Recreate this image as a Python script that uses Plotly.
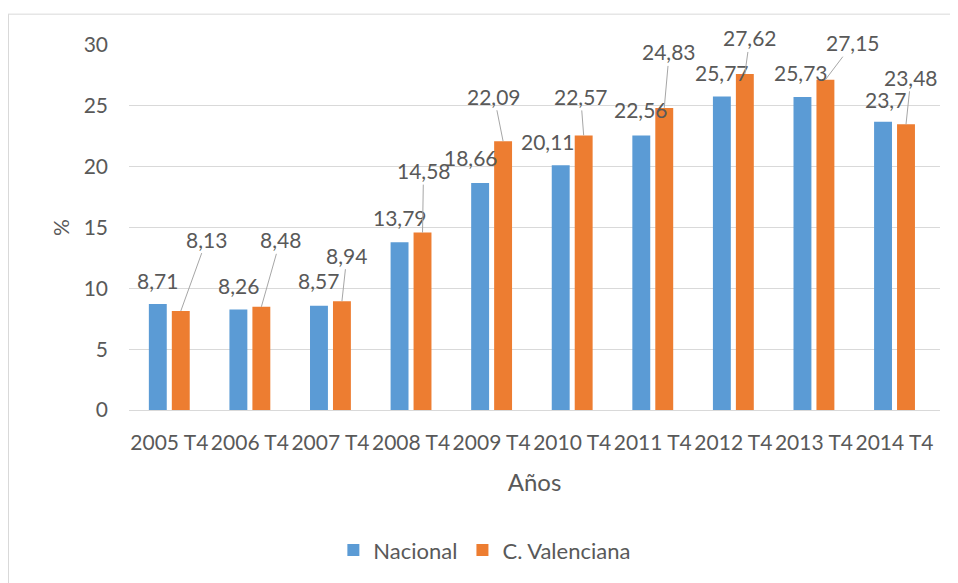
import plotly.graph_objects as go

categories = ["2005 T4", "2006 T4", "2007 T4", "2008 T4", "2009 T4",
              "2010 T4", "2011 T4", "2012 T4", "2013 T4", "2014 T4"]
nacional = [8.71, 8.26, 8.57, 13.79, 18.66, 20.11, 22.56, 25.77, 25.73, 23.7]
valenciana = [8.13, 8.48, 8.94, 14.58, 22.09, 22.57, 24.83, 27.62, 27.15, 23.48]

# label placement (pixel offsets from bar top), as in the original chart
nac_dx = [0, 0, 0, 0, -9, -13, 0, 0, -1, 2]
nac_rise = [24, 24, 25, 25, 25, 24, 26, 24, 24, 22]
val_dx = [26, 19, 5, 1, -9, -3, 5, 5, 28, 5]
val_dy = [-72, -67, -46, -62, -45, -39, -56, -36, -37, -47]

BLUE = "#5B9BD5"
ORANGE = "#ED7D31"
TXT = "#595959"
GRID = "#D9D9D9"
FONT = "Lato, Open Sans, sans-serif"
BARGAP = 0.43
GROUPGAP = 0.22

W, H = 950, 575
ML, MT, PW, PH = 121, 37, 811, 367


def fmt(v):
    return f"{v:g}".replace(".", ",")


fig = go.Figure()
fig.add_trace(go.Bar(name="Nacional", x=categories, y=nacional,
                     marker=dict(color=BLUE, line=dict(width=0))))
fig.add_trace(go.Bar(name="C. Valenciana", x=categories, y=valenciana,
                     marker=dict(color=ORANGE, line=dict(width=0))))

off = (1 - BARGAP) / 4
annotations = []
for i, v in enumerate(nacional):
    annotations.append(dict(x=i - off, y=v, xref="x", yref="y", text=fmt(v),
                            showarrow=False, xanchor="center", yanchor="middle",
                            xshift=nac_dx[i], yshift=nac_rise[i],
                            font=dict(family=FONT, size=21, color=TXT)))
for i, v in enumerate(valenciana):
    annotations.append(dict(x=i + off, y=v, xref="x", yref="y", text=fmt(v),
                            showarrow=True, arrowhead=0, arrowwidth=1,
                            arrowcolor="#A6A6A6", ax=val_dx[i], ay=val_dy[i],
                            standoff=0, startstandoff=0,
                            font=dict(family=FONT, size=21, color=TXT)))

bx = (0 - ML) / PW
by = (MT + PH - 6) / PH

fig.update_layout(
    width=W, height=H,
    margin=dict(l=ML, r=W - ML - PW, t=MT, b=H - MT - PH),
    paper_bgcolor="white", plot_bgcolor="white",
    barmode="group", bargap=BARGAP, bargroupgap=GROUPGAP,
    font=dict(family=FONT, size=21, color=TXT),
    showlegend=True,
    legend=dict(orientation="h", x=0.252, xanchor="left", y=-0.384, yanchor="middle",
                font=dict(family=FONT, size=22, color=TXT), itemsizing="constant"),
    xaxis=dict(type="category", showgrid=False, showline=False, ticks="",
               ticklabelstandoff=18,
               tickfont=dict(family=FONT, size=21, color=TXT),
               title=dict(text="Años", standoff=21,
                          font=dict(family=FONT, size=24, color=TXT))),
    yaxis=dict(range=[0, 30], dtick=5, showgrid=True, gridcolor=GRID, gridwidth=1,
               zeroline=True, zerolinecolor=GRID, zerolinewidth=1,
               showline=False, ticks="", ticklabelstandoff=20,
               tickfont=dict(family=FONT, size=21, color=TXT),
               title=dict(text="%", standoff=8,
                          font=dict(family=FONT, size=21, color=TXT))),
    annotations=annotations,
    shapes=[
        dict(type="line", xref="paper", yref="paper",
             x0=bx, x1=(W + 50 - ML) / PW, y0=by, y1=by,
             line=dict(color=GRID, width=1)),
        dict(type="line", xref="paper", yref="paper",
             x0=bx + 0.5 / PW, x1=bx + 0.5 / PW, y0=by, y1=(MT + PH - H - 50) / PH,
             line=dict(color=GRID, width=1)),
    ],
)

fig.write_html("out.html")
